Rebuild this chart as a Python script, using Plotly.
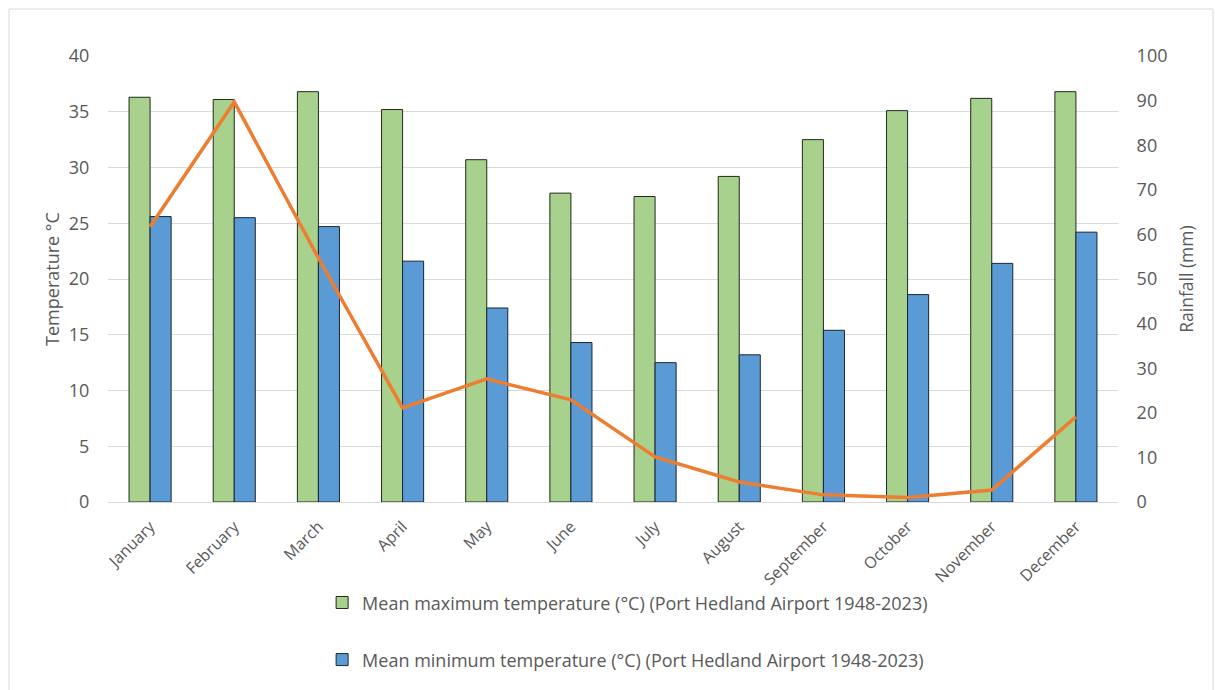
import plotly.graph_objects as go

months = ["January", "February", "March", "April", "May", "June", "July",
          "August", "September", "October", "November", "December"]
mean_max = [36.3, 36.1, 36.8, 35.2, 30.7, 27.7, 27.4, 29.2, 32.5, 35.1, 36.2, 36.8]
mean_min = [25.6, 25.5, 24.7, 21.6, 17.4, 14.3, 12.5, 13.2, 15.4, 18.6, 21.4, 24.2]
rainfall = [61.7, 89.7, 54.7, 21.1, 27.6, 22.9, 10.1, 4.5, 1.6, 1.0, 2.7, 19.1]

name_max = "Mean maximum temperature (°C) (Port Hedland Airport 1948-2023)"
name_min = "Mean minimum temperature (°C) (Port Hedland Airport 1948-2023)"
name_rain = "Mean rainfall (mm) (Port Hedland Airport 1948-2023)"

FONT = "'Open Sans', Lato, sans-serif"
TXT = "#595959"
CLEAR = "rgba(0,0,0,0)"

fig = go.Figure()
fig.add_trace(go.Bar(x=months, y=mean_max, name=name_max,
                     marker=dict(color="#A9D18E", line=dict(color="#1f2a1a", width=1)),
                     legend="legend"))
fig.add_trace(go.Bar(x=months, y=mean_min, name=name_min,
                     marker=dict(color="#5B9BD5", line=dict(color="#1a2535", width=1)),
                     legend="legend2"))
fig.add_trace(go.Scatter(x=months, y=rainfall, name=name_rain, yaxis="y2",
                         mode="lines", line=dict(color="#ED7D31", width=3.5),
                         showlegend=False))

L, R, T, B = 108, 97, 56, 188
fig.update_layout(
    width=1215, height=690,
    margin=dict(l=L, r=R, t=T, b=B),
    paper_bgcolor="white", plot_bgcolor="white",
    font=dict(family=FONT, color=TXT, size=16),
    barmode="group", bargap=0.5, bargroupgap=0,
    xaxis=dict(tickangle=-45, tickfont=dict(size=16, color=TXT),
               showline=True, linecolor="#D9D9D9", linewidth=1,
               ticks="outside", ticklen=8, tickcolor=CLEAR, showgrid=False),
    yaxis=dict(range=[0, 40], dtick=5, showgrid=True, gridcolor="#D9D9D9",
               zeroline=False, tickfont=dict(size=18, color=TXT),
               ticks="outside", ticklen=14, tickcolor=CLEAR,
               title=dict(text="Temperature °C", font=dict(size=18, color=TXT), standoff=4)),
    yaxis2=dict(range=[0, 100], dtick=10, overlaying="y", side="right",
                showgrid=False, zeroline=False, tickfont=dict(size=18, color=TXT),
                ticks="outside", ticklen=14, tickcolor=CLEAR,
                title=dict(text="Rainfall (mm)", font=dict(size=17.5, color=TXT), standoff=14)),
    legend=dict(x=0.212, y=-0.226, xanchor="left", yanchor="middle",
                font=dict(size=18, color=TXT), bgcolor=CLEAR),
    legend2=dict(x=0.212, y=-0.354, xanchor="left", yanchor="middle",
                 font=dict(size=18, color=TXT), bgcolor=CLEAR),
    shapes=[dict(type="rect", xref="paper", yref="paper",
                 x0=(9 - L) / 1010, x1=(1213 - L) / 1010,
                 y0=(502 - 700) / 446, y1=(502 - 9) / 446,
                 line=dict(color="#D9D9D9", width=1), layer="below")],
)

fig.write_html("out.html")
